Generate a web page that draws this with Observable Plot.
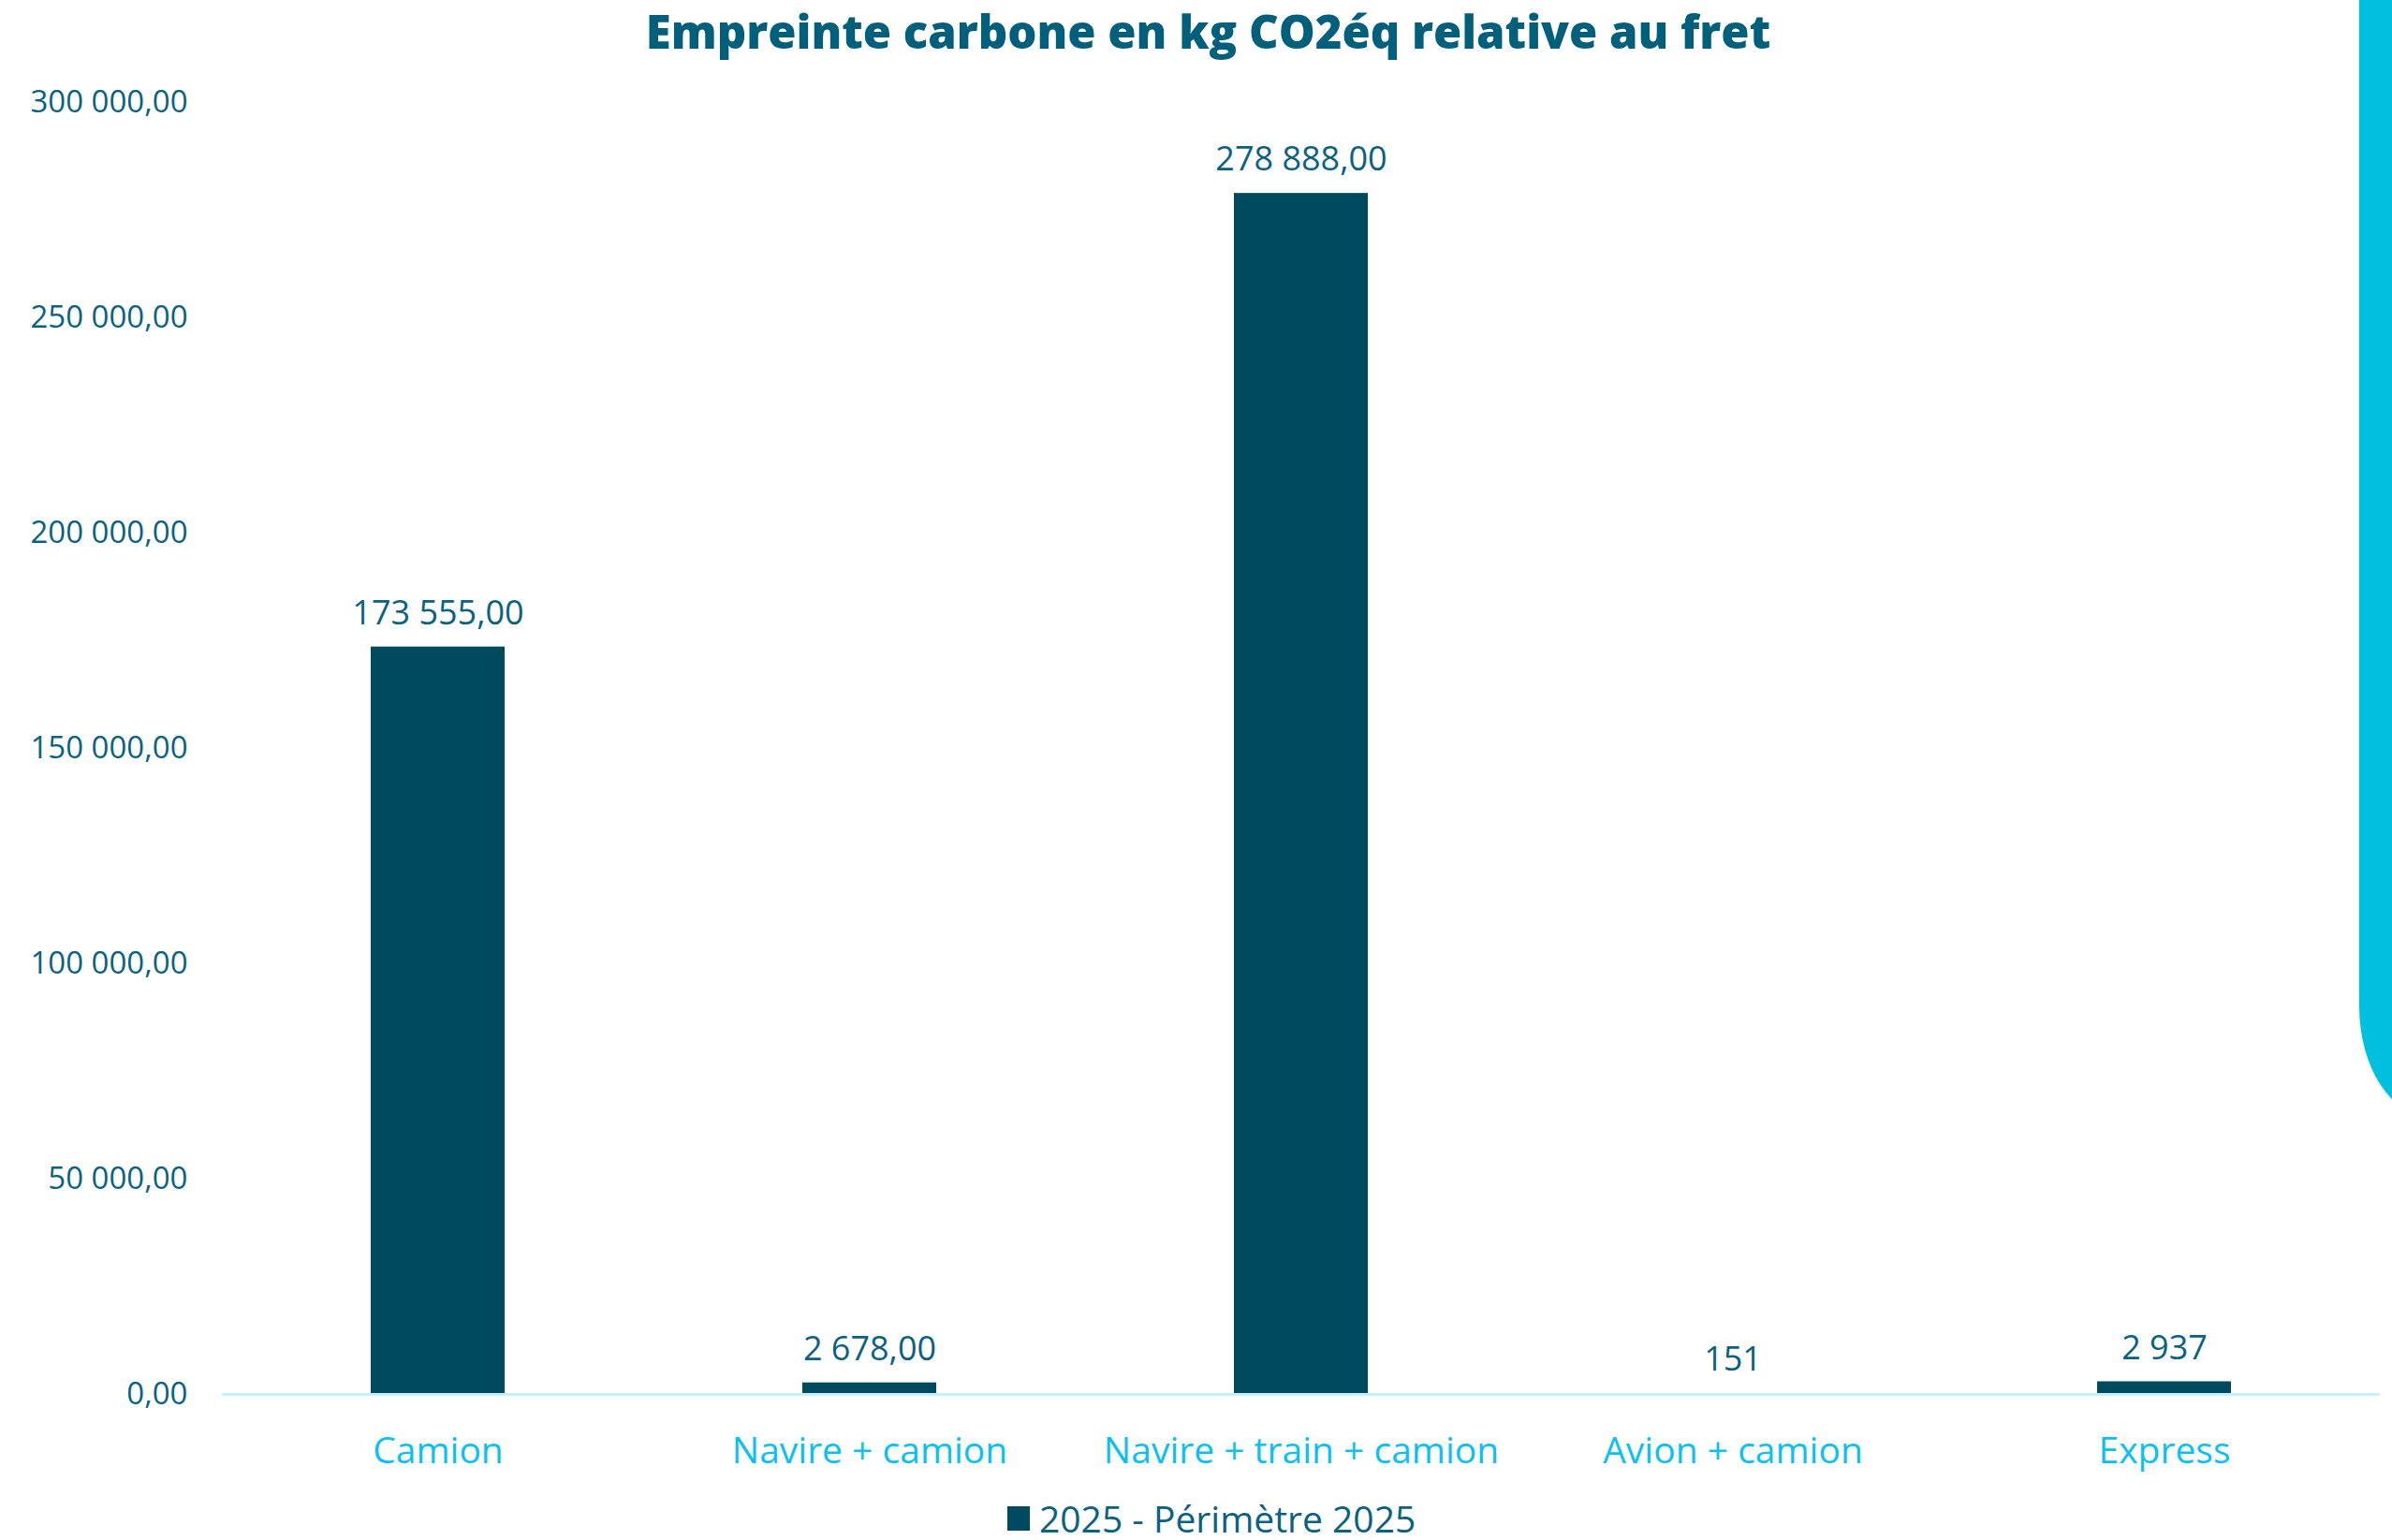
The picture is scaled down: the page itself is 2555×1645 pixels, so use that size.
<!DOCTYPE html>
<html>
<head>
<meta charset="utf-8">
<script src="https://cdn.jsdelivr.net/npm/d3@7"></script>
<script src="https://cdn.jsdelivr.net/npm/@observablehq/plot@0.6"></script>
<style>
  html, body { margin: 0; padding: 0; background: #ffffff; }
  body { width: 2555px; height: 1645px; position: relative; overflow: hidden; font-family: "Open Sans", "Noto Sans", sans-serif; }
  #title { height: 72px; line-height: 66px; text-align: center; padding-left: 26px; box-sizing: border-box; width: 2555px;
           font-weight: 800; font-size: 49px; color: #005f7a; white-space: nowrap; }
  #chart { height: 1515px; }
  #legend { height: 58px; display: flex; align-items: center; padding-left: 1076px; padding-top: 12px; box-sizing: border-box;
            font-size: 39px; line-height: 44px; color: #0b6280; }
  #legend .sw { width: 24px; height: 26px; background: #004a5f; margin-right: 10px; }
  #band { position: absolute; left: 2520px; top: 0; width: 300px; height: 1195px; background: #00bfdf;
          border-bottom-left-radius: 80px 120px; }
</style>
</head>
<body>
<div id="band"></div>
<div id="title">Empreinte carbone en kg CO2éq relative au fret</div>
<div id="chart"></div>
<div id="legend"><div class="sw"></div><span>2025 - Périmètre 2025</span></div>
<script>
const categories = ["Camion", "Navire + camion", "Navire + train + camion", "Avion + camion", "Express"];
const values = [173555, 2678, 278888, 151, 2937];
const valueLabels = ["173 555,00", "2 678,00", "278 888,00", "151", "2 937"];
const yTicks = [0, 50000, 100000, 150000, 200000, 250000, 300000];
const seriesName = "2025 - Périmètre 2025";

const data = categories.map((c, i) => ({category: c, value: values[i], label: valueLabels[i]}));
const fr = d3.formatLocale({decimal: ",", thousands: " ", grouping: [3], currency: ["", " €"]});
const fmt = fr.format(",.2f");

const plot = Plot.plot({
  width: 2555,
  height: 1515,
  marginTop: 37,
  marginBottom: 98,
  marginLeft: 237,
  marginRight: 13,
  style: {fontFamily: "'Open Sans', 'Noto Sans', sans-serif", background: "transparent"},
  x: {domain: categories, paddingInner: 0.69, paddingOuter: 0.345, label: null},
  y: {domain: [0, 300000], ticks: yTicks, label: null},
  marks: [
    Plot.axisY({ticks: yTicks, tickFormat: fmt, tickSize: 0, tickPadding: 37, fontSize: 33, fill: "#0b6280", label: null}),
    Plot.axisX({tickSize: 0, tickPadding: 46, fontSize: 39, fill: "#0cc0f5", label: null}),
    Plot.barY(data, {x: "category", y: "value", fill: "#004a5f"}),
    Plot.ruleY([0], {stroke: "#c8f0fc", strokeWidth: 3}),
    Plot.text(data, {x: "category", y: "value", text: "label", dy: -36, fontSize: 36, fill: "#0b6280"})
  ]
});
document.getElementById("chart").appendChild(plot);
</script>
</body>
</html>
